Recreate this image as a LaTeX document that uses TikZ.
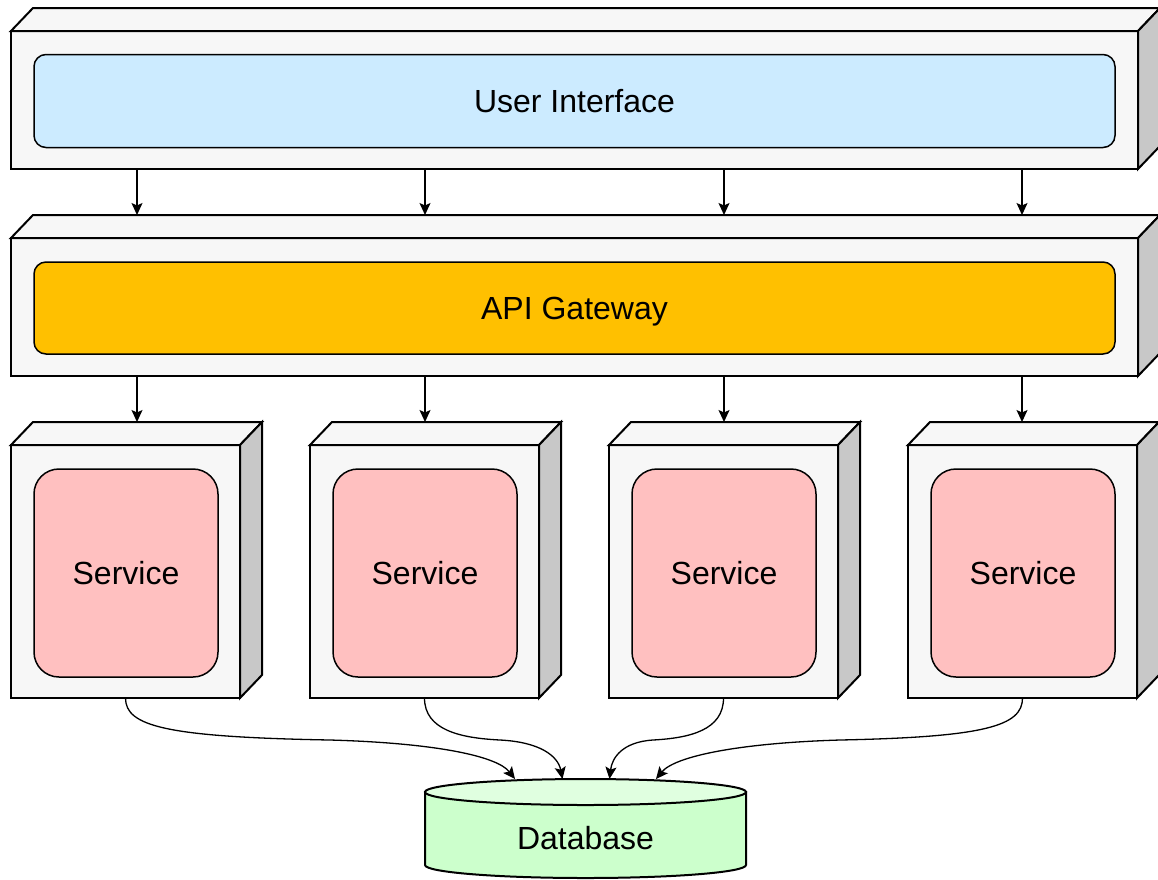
\documentclass[tikz,border=0pt]{standalone}
\usepackage{fontspec}
\setmainfont{Liberation Sans}
\usetikzlibrary{arrows.meta,calc}
\definecolor{boxface}{HTML}{F7F7F7}
\definecolor{boxside}{HTML}{C8C8C8}
\definecolor{uiblue}{HTML}{CCEBFF}
\definecolor{gwgold}{HTML}{FFC000}
\definecolor{svcpink}{HTML}{FFC0C0}
\definecolor{dbgreen}{HTML}{CCFFCC}
\definecolor{dbtopc}{HTML}{E0FFE0}
\begin{document}
\begin{tikzpicture}[x=1pt,y=-1pt,
  frontface/.style={draw, fill=boxface, line width=2pt, inner sep=0pt, outer sep=0pt},
  topface/.style={draw, fill=boxface, line width=2pt},
  sideface/.style={draw, fill=boxside, line width=2pt},
  inner/.style={draw, line width=1.5pt, inner sep=0pt, outer sep=0pt, text height=23pt, text depth=0pt, font=\fontsize{32}{38}\selectfont},
  arr/.style={line width=1.3pt, -{Stealth[length=12pt,width=11pt,inset=2.5pt]}},
  curvearr/.style={line width=1.3pt, -{Stealth[length=12pt,width=11pt,inset=2.5pt]}},
  dbbody/.style={draw, fill=dbgreen, line width=2pt},
  dbcap/.style={draw, fill=dbtopc, line width=2pt}
]
\useasboundingbox (0,0) rectangle (1158,879);

% ---- 3D boxes: front faces as nodes
\node[frontface, minimum width=1127pt, minimum height=138pt] (ui3d) at (574.5,100) {};
\node[frontface, minimum width=1127pt, minimum height=138pt] (gw3d) at (574.5,307) {};
\node[frontface, minimum width=229pt, minimum height=253pt] (s1) at (125.5,571.5) {};
\node[frontface, minimum width=229pt, minimum height=253pt] (s2) at (424.5,571.5) {};
\node[frontface, minimum width=229pt, minimum height=253pt] (s3) at (723.5,571.5) {};
\node[frontface, minimum width=229pt, minimum height=253pt] (s4) at (1022.5,571.5) {};

\foreach \b in {ui3d,gw3d,s1,s2,s3,s4}{
  \filldraw[topface] (\b.north west) -- ++(22,-23) -- ($(\b.north east)+(22,-23)$) -- (\b.north east) -- cycle;
  \filldraw[sideface] (\b.north east) -- ++(22,-23) -- ($(\b.south east)+(22,-23)$) -- (\b.south east) -- cycle;
  \draw[line width=2pt] (\b.north west) rectangle (\b.south east);
}

% ---- inner components
\node[inner, fill=uiblue, rounded corners=12pt, minimum width=1081pt, minimum height=93pt] (ui) at (574.5,101) {User Interface};
\node[inner, fill=gwgold, rounded corners=12pt, minimum width=1081pt, minimum height=92pt] (gw) at (574.5,308) {API Gateway};
\node[inner, fill=svcpink, rounded corners=25pt, minimum width=184pt, minimum height=208pt] (sv1) at (126,573) {Service};
\node[inner, fill=svcpink, rounded corners=25pt, minimum width=184pt, minimum height=208pt] (sv2) at (425,573) {Service};
\node[inner, fill=svcpink, rounded corners=25pt, minimum width=184pt, minimum height=208pt] (sv3) at (724,573) {Service};
\node[inner, fill=svcpink, rounded corners=25pt, minimum width=184pt, minimum height=208pt] (sv4) at (1023,573) {Service};

% ---- database
\filldraw[dbbody] (425,792) -- (425,865) arc[start angle=180, end angle=0, x radius=160.5, y radius=13] -- (746,792) -- cycle;
\filldraw[dbcap] (585.5,792) ellipse[x radius=160.5, y radius=13];
\node[font=\fontsize{32}{38}\selectfont, inner sep=0pt, text height=23pt, text depth=0pt] (db) at (585.5,838) {Database};
\coordinate (dbt) at (585.5,779);

% ---- straight arrows
\coordinate (gwback) at ($(gw3d.north)+(0,-23)$);
\coordinate (svback) at ($(s1.north)+(0,-23)$);
\foreach \x in {137,425,724,1022}{
  \coordinate (ax) at (\x,0);
  \draw[arr] (ui3d.south -| ax) -- (gwback -| ax);
  \draw[arr] (gw3d.south -| ax) -- (svback -| ax);
}

% ---- curved arrows to database
\draw[curvearr] (s1.south) .. controls (125.5,726) and (165,737) .. (330,740)
  .. controls (435,743) and (497,756) .. ([xshift=-70.5pt]dbt);
\draw[curvearr] (s2.south) .. controls (424.5,730) and (460,738) .. (500,740)
  .. controls (540,742) and (558,756) .. ([xshift=-23pt]dbt);
\draw[curvearr] (s3.south) .. controls (723.5,730) and (690,738) .. (653,740)
  .. controls (622,742) and (612,758) .. ([xshift=24pt]dbt);
\draw[curvearr] (s4.south) .. controls (1022.5,726) and (985,737) .. (840,740)
  .. controls (740,743) and (675,756) .. ([xshift=70.5pt]dbt);
\end{tikzpicture}
\end{document}
